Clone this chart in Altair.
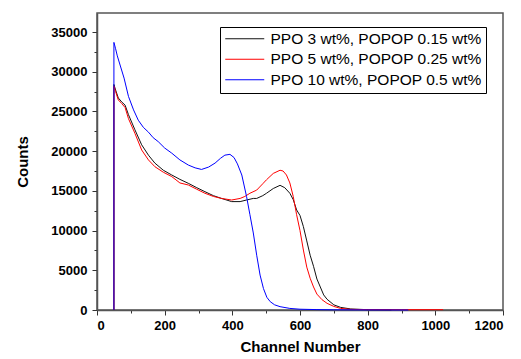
import altair as alt
import pandas as pd

series_names = ["PPO 3 wt%, POPOP 0.15 wt%", "PPO 5 wt%, POPOP 0.25 wt%", "PPO 10 wt%, POPOP 0.5 wt%"]
series_colors = ["#111111", "#ff0000", "#0000ff"]

black_ch = [50, 50, 55, 63, 73, 83, 93, 112, 132, 152, 171, 196, 221, 245, 270, 295, 319, 344, 368, 398,
            423, 442, 462, 472, 490, 501, 521, 541, 555, 570, 580, 590, 600, 610, 620, 630, 640, 650, 660,
            670, 680, 700, 720, 750, 800, 870]
black_ct = [0, 28400, 27700, 26700, 26200, 25800, 24600, 22700, 20800, 19500, 18500, 17600, 17000, 16450,
            15950, 15400, 14900, 14400, 14050, 13650, 13650, 13850, 14050, 14050, 14400, 14700, 15300, 15700,
            15400, 14700, 13900, 12600, 11900, 10500, 8700, 6900, 5500, 3900, 2900, 1900, 1350, 650, 330,
            130, 40, 10]

red_ch = [50, 50, 55, 63, 73, 83, 93, 112, 132, 152, 171, 196, 221, 245, 270, 295, 319, 344, 368, 398,
          423, 437, 452, 472, 490, 501, 521, 541, 550, 560, 570, 580, 590, 600, 610, 620, 630, 640, 650,
          665, 680, 700, 720, 750, 800, 900, 1023]
red_ct = [0, 28200, 27500, 26450, 26000, 25500, 24100, 22250, 20150, 18900, 18050, 17350, 16800, 16000,
          15740, 15200, 14700, 14300, 14050, 13850, 14050, 14300, 14700, 15100, 15900, 16400, 17200, 17600,
          17500, 17000, 16000, 14300, 12000, 10000, 7550, 5400, 4000, 2900, 2000, 1300, 840, 450, 200, 80,
          50, 40, 40]

blue_ch = [50, 50, 55, 60, 70, 80, 93, 108, 122, 137, 152, 166, 181, 200, 221, 245, 270, 290, 309, 330,
           349, 365, 378, 393, 405, 415, 428, 442, 452, 462, 472, 482, 492, 502, 512, 525, 541, 570, 600,
           650, 700, 800, 920]
blue_ct = [0, 33700, 32900, 32000, 30600, 29200, 26900, 25200, 23900, 23000, 22400, 21700, 21200, 20400,
           19750, 18900, 18250, 17900, 17700, 18000, 18500, 19100, 19500, 19600, 19200, 18400, 17000, 14300,
           12000, 9700, 6900, 4400, 2700, 1600, 1050, 650, 420, 200, 100, 50, 25, 10, 0]

x_ticks = list(range(0, 1201, 100))
y_ticks = list(range(0, 35001, 2500))

rows = []
for name, chs, cts in zip(series_names, [black_ch, red_ch, blue_ch], [black_ct, red_ct, blue_ct]):
    for i, (c, v) in enumerate(zip(chs, cts)):
        rows.append({"series": name, "channel": c, "count": v, "idx": i})
df = pd.DataFrame(rows)

FONT = "Liberation Sans"

x_enc = alt.X("channel:Q", title="Channel Number",
              scale=alt.Scale(domain=[0, 1200], nice=False, zero=False),
              axis=alt.Axis(values=x_ticks, format="d",
                            labelExpr="datum.value % 200 === 0 ? datum.label : ''",
                            tickSize={"condition": {"test": "datum.value % 200 === 0", "value": 5}, "value": 3},
                            labelPadding=4, titlePadding=7, grid=False))
y_enc = alt.Y("count:Q", title="Counts",
              scale=alt.Scale(domain=[0, 37400], nice=False),
              axis=alt.Axis(values=y_ticks, format="d",
                            labelExpr="datum.value % 5000 === 0 ? datum.label : ''",
                            tickSize={"condition": {"test": "datum.value % 5000 === 0", "value": 5}, "value": 3},
                            labelPadding=5, titlePadding=20, grid=False))
color_enc = alt.Color("series:N",
                      scale=alt.Scale(domain=series_names, range=series_colors),
                      legend=alt.Legend(title=None, orient="none", legendX=123, legendY=14,
                                        symbolType="M-1,0H5", symbolSize=169, symbolStrokeWidth=1,
                                        labelOffset=31, labelFontSize=15.5, labelFont=FONT,
                                        labelColor="black", rowPadding=3.5,
                                        strokeColor="black", padding=4, labelLimit=400))

layers = []
for name in series_names:
    layers.append(
        alt.Chart(df).transform_filter(alt.datum.series == name)
        .mark_line(strokeWidth=1)
        .encode(x=x_enc, y=y_enc, color=color_enc, order="idx:Q")
    )

chart = alt.layer(*layers).properties(
    width=406, height=297,
    background="white",
    autosize=alt.AutoSizeParams(type="none"),
    padding={"left": 89, "top": 5, "right": 10, "bottom": 46},
).configure_view(
    stroke="#555555", strokeWidth=1.5
).configure_axis(
    labelFont=FONT, labelFontSize=13, labelFontWeight="bold", labelColor="black",
    titleFont=FONT, titleFontSize=15, titleFontWeight="bold", titleColor="black",
    domainColor="#555555", domainWidth=1.5, tickColor="#333333", tickWidth=1
)

chart.save("out.html", embed_options={"renderer": "svg", "actions": False})
